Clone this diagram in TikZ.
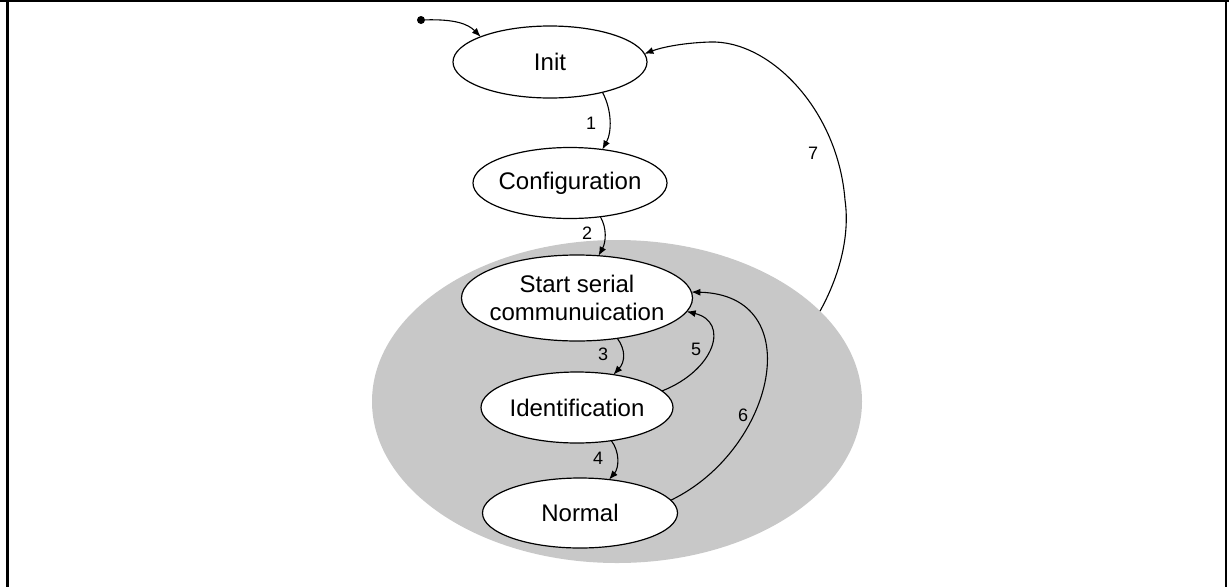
\documentclass[tikz,border=0pt]{standalone}
\usepackage{fontspec}
\setmainfont{Liberation Sans}
\usetikzlibrary{shapes.geometric,arrows.meta}
\definecolor{regiongray}{RGB}{200,200,200}
\begin{document}
\begin{tikzpicture}[x=1pt,y=-1pt,
  state/.style={ellipse, draw=black, fill=white, line width=1.2pt, inner sep=0pt, outer sep=0pt},
  stext/.style={font=\fontsize{24}{28}\selectfont, align=center},
  tr/.style={line width=1.1pt, -{Latex[length=9pt,width=7pt]}},
  num/.style={font=\fontsize{18}{20}\selectfont, inner sep=0pt},
  frame/.style={line width=2.5pt}]
\useasboundingbox (0,0) rectangle (1229,587);
\draw[line width=1.5pt] (0,1.2) -- (1229,1.2);
\draw[frame] (7.5,0) -- (7.5,587);
\draw[frame] (1226,0) -- (1226,587);

\node[ellipse, fill=regiongray, minimum width=490pt, minimum height=323pt, inner sep=0pt, outer sep=0pt] (region) at (617,401.5) {};

\node[state, minimum width=194pt, minimum height=72pt, label={[stext]center:Init}] (init) at (550,62) {};
\node[state, minimum width=194pt, minimum height=71pt, label={[stext]center:Configuration}] (config) at (570,183) {};
\node[state, minimum width=231pt, minimum height=86pt, label={[stext]center:{Start serial\\communuication}}] (ssc) at (577,298) {};
\node[state, minimum width=192pt, minimum height=71pt, label={[stext]center:Identification}] (ident) at (577,407.5) {};
\node[state, minimum width=195pt, minimum height=70pt, label={[stext]center:Normal}] (normal) at (580,513) {};

\node[circle, fill=black, inner sep=0pt, minimum size=8pt] (start) at (421,20) {};
\draw[tr] (start) .. controls (455,19) and (468,24) .. (init.160);

\draw[tr] (init.-30) .. controls (612,110) and (612,132) .. (config.46);
\draw[tr] (config.-48) .. controls (607,228) and (606,242) .. (ssc.63);
\draw[tr] (ssc.-45) .. controls (626,350) and (625,362) .. (ident.42);
\draw[tr] (ident.-44) .. controls (620,452) and (619,468) .. (normal.49);
\draw[tr] (ident.11) .. controls (715,370) and (730,322) .. (ssc.-7);
\draw[tr] (normal.8) .. controls (775,450) and (810,295) .. (ssc.3);
\draw[tr] (region.24) .. controls (840,275) and (850,235) .. (845,200)
   .. controls (838,110) and (770,40) .. (710,42)
   .. controls (680,43) and (660,48) .. (init.5);

\node[num] (l1) at (591,123) {1};
\node[num] (l2) at (587,233) {2};
\node[num] (l3) at (603,354) {3};
\node[num] (l4) at (598,458) {4};
\node[num] (l5) at (696,349) {5};
\node[num] (l6) at (743,415) {6};
\node[num] (l7) at (813,153) {7};
\end{tikzpicture}
\end{document}
